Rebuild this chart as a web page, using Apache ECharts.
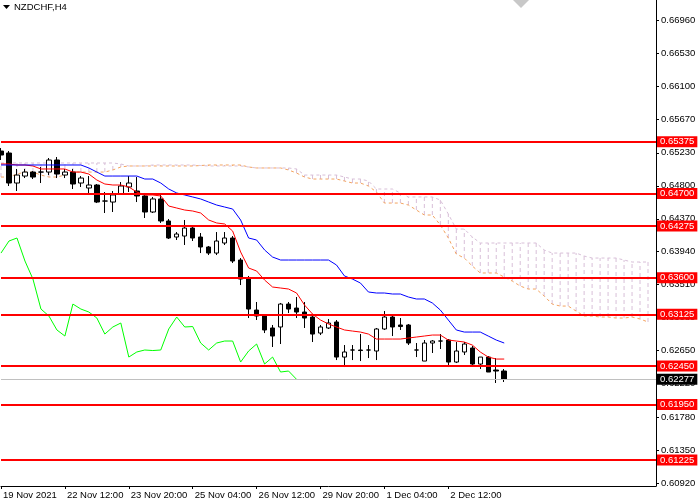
<!DOCTYPE html>
<html><head><meta charset="utf-8">
<script src="https://cdn.jsdelivr.net/npm/echarts@6.0.0/dist/echarts.min.js"></script>
<style>html,body{margin:0;padding:0;background:#fff}#c{width:700px;height:500px}</style>
</head><body><div id="c"></div>
<script>
const symbolName = 'NZDCHF,H4';
const tickLabels = ['19 Nov 2021','22 Nov 12:00','23 Nov 20:00','25 Nov 04:00','26 Nov 12:00','29 Nov 20:00','1 Dec 04:00','2 Dec 12:00'];
const yTicks = [0.66960,0.66530,0.66100,0.65670,0.65230,0.64800,0.64370,0.63940,0.63510,0.63080,0.62650,0.62220,0.61780,0.61350,0.60920];
const levels = [0.65375,0.64700,0.64275,0.63600,0.63125,0.62450,0.61950,0.61225];
const currentPrice = 0.62277;

const opens = [0.65253,0.65227,0.64836,0.64927,0.64979,0.64979,0.64979,0.65136,0.64940,0.64979,
0.64836,0.64771,0.64810,0.64601,0.64588,0.64693,0.64784,0.64732,0.64667,0.64458,
0.64628,0.64341,0.64132,0.64145,0.64249,0.64132,0.64002,0.63923,0.64054,0.64119,
0.63832,0.63597,0.63180,0.63102,0.62946,0.62959,0.63258,0.63206,0.63154,0.63089,
0.62880,0.62946,0.63024,0.62567,0.62659,0.62659,0.62659,0.62646,0.62933,0.63089,
0.62985,0.62985,0.62659,0.62515,0.62750,0.62776,0.62789,0.62502,0.62633,0.62685,
0.62476,0.62567,0.62398,0.62385];
const closes = [0.65201,0.64836,0.64940,0.64979,0.64914,0.64979,0.65136,0.64953,0.64979,0.64823,
0.64901,0.64810,0.64588,0.64601,0.64680,0.64797,0.64836,0.64667,0.64458,0.64628,
0.64341,0.64119,0.64171,0.64249,0.64119,0.64002,0.63923,0.64080,0.64119,0.63819,
0.63584,0.63193,0.63102,0.62920,0.62841,0.63258,0.63193,0.63154,0.63076,0.62867,
0.62959,0.63011,0.62567,0.62633,0.62659,0.62652,0.62659,0.62933,0.63089,0.62959,
0.62965,0.62750,0.62659,0.62750,0.62776,0.62776,0.62502,0.62646,0.62737,0.62476,
0.62567,0.62372,0.62385,0.62277];
const highs = [0.65292,0.65253,0.65019,0.65019,0.64992,0.65045,0.65162,0.65175,0.65019,0.65019,
0.64927,0.64927,0.64823,0.64719,0.64732,0.64849,0.64927,0.64914,0.64706,0.64654,
0.64706,0.64367,0.64197,0.64354,0.64262,0.64184,0.64015,0.64197,0.64197,0.64145,
0.63858,0.63624,0.63285,0.63115,0.62985,0.63272,0.63285,0.63350,0.63285,0.63102,
0.62985,0.63063,0.63050,0.62724,0.62724,0.62867,0.62724,0.62946,0.63167,0.63115,
0.63076,0.62998,0.62750,0.62789,0.62789,0.62867,0.62802,0.62763,0.62763,0.62711,
0.62567,0.62580,0.62554,0.62411];
const lows = [0.65136,0.64797,0.64732,0.64901,0.64888,0.64836,0.64940,0.64901,0.64901,0.64758,
0.64784,0.64706,0.64575,0.64445,0.64458,0.64680,0.64719,0.64588,0.64380,0.64445,
0.64315,0.64106,0.64093,0.64028,0.64080,0.63923,0.63897,0.63897,0.64028,0.63793,
0.63506,0.63076,0.63050,0.62880,0.62698,0.62737,0.63141,0.63076,0.62946,0.62763,
0.62854,0.62933,0.62528,0.62437,0.62528,0.62515,0.62554,0.62528,0.62920,0.62841,
0.62920,0.62724,0.62567,0.62515,0.62620,0.62672,0.62437,0.62489,0.62594,0.62463,
0.62411,0.62372,0.62229,0.62242];

const tenkan = [0.65084,0.65084,0.65071,0.65071,0.65058,0.65019,0.65019,0.65019,0.65019,0.64979,
0.64979,0.64953,0.64875,0.64823,0.64810,0.64810,0.64784,0.64719,0.64680,0.64680,
0.64667,0.64536,0.64510,0.64484,0.64471,0.64445,0.64354,0.64315,0.64302,0.64210,
0.63937,0.63728,0.63689,0.63571,0.63480,0.63467,0.63454,0.63402,0.63245,0.63128,
0.63050,0.62998,0.62959,0.62920,0.62906,0.62893,0.62867,0.62802,0.62802,0.62802,
0.62802,0.62815,0.62828,0.62841,0.62854,0.62854,0.62789,0.62776,0.62763,0.62724,
0.62633,0.62567,0.62541,0.62541];
const kijun = [0.65071,0.65071,0.65071,0.65071,0.65071,0.65071,0.65071,0.65071,0.65071,0.65071,
0.65071,0.65032,0.64979,0.64927,0.64927,0.64927,0.64927,0.64927,0.64888,0.64888,
0.64836,0.64758,0.64706,0.64680,0.64654,0.64628,0.64588,0.64549,0.64523,0.64497,
0.64354,0.64119,0.64093,0.63963,0.63871,0.63832,0.63832,0.63832,0.63832,0.63832,
0.63832,0.63832,0.63767,0.63624,0.63584,0.63532,0.63415,0.63402,0.63402,0.63389,
0.63389,0.63350,0.63324,0.63324,0.63272,0.63180,0.63050,0.62920,0.62893,0.62893,
0.62893,0.62841,0.62789,0.62750];
const senkouA = [0.64914,0.64914,0.64953,0.64979,0.64979,0.64940,0.64914,0.64914,0.64940,0.64979,
0.64979,0.64979,0.64979,0.64979,0.65006,0.65045,0.65058,0.65058,0.65058,0.65058,
0.65058,0.65058,0.65058,0.65058,0.65058,0.65064,0.65071,0.65071,0.65071,0.65071,
0.65071,0.65045,0.65032,0.65032,0.65032,0.65032,0.65006,0.64966,0.64914,0.64888,
0.64888,0.64888,0.64888,0.64862,0.64836,0.64836,0.64797,0.64719,0.64575,0.64575,
0.64575,0.64549,0.64484,0.64419,0.64419,0.64289,0.64119,0.63910,0.63858,0.63754,
0.63663,0.63663,0.63663,0.63610,0.63558,0.63493,0.63454,0.63454,0.63363,0.63258,
0.63232,0.63232,0.63167,0.63102,0.63102,0.63089,0.63089,0.63076,0.63076,0.63089,
0.63063,0.63024];
const senkouB = [0.65097,0.65097,0.65097,0.65097,0.65097,0.65097,0.65097,0.65097,0.65097,0.65097,
0.65097,0.65097,0.65097,0.65097,0.65097,0.65084,0.65058,0.65058,0.65058,0.65071,
0.65071,0.65071,0.65071,0.65071,0.65071,0.65064,0.65058,0.65058,0.65058,0.65058,
0.65058,0.65045,0.65032,0.65032,0.65032,0.65032,0.65032,0.65019,0.64940,0.64940,
0.64940,0.64940,0.64940,0.64914,0.64888,0.64888,0.64862,0.64758,0.64758,0.64758,
0.64706,0.64654,0.64654,0.64654,0.64654,0.64614,0.64432,0.64236,0.64236,0.64132,
0.64054,0.64054,0.64054,0.64054,0.64054,0.64054,0.64054,0.64054,0.63963,0.63923,
0.63923,0.63923,0.63923,0.63884,0.63858,0.63858,0.63858,0.63858,0.63832,0.63806,
0.63806,0.63806];
const chikou = [0.63923,0.64080,0.64119,0.63819,0.63584,0.63193,0.63102,0.62920,0.62841,0.63258,
0.63193,0.63154,0.63076,0.62867,0.62959,0.63011,0.62567,0.62633,0.62659,0.62652,
0.62659,0.62933,0.63089,0.62959,0.62965,0.62750,0.62659,0.62750,0.62776,0.62776,
0.62502,0.62646,0.62737,0.62476,0.62567,0.62372,0.62385,0.62277];

const SLOTS = 83;
const categories = Array.from({length: SLOTS}, (_, i) => String(i));
const candleData = opens.map((o, i) => [o, closes[i], lows[i], highs[i]]);
const cloudData = senkouA.map((a, i) => [i, a, senkouB[i]]);
const FONT = 'Liberation Sans';
const isTick = (i) => i % 8 === 0 && i / 8 < tickLabels.length;

const chart = echarts.init(document.getElementById('c'), null, {renderer: 'canvas'});
const levelLabel = (bg) => ({
  show: true, position: 'end', distance: 1,
  formatter: (p) => Number(p.value).toFixed(5),
  color: '#fff', backgroundColor: bg, fontFamily: FONT, fontSize: 9.5,
  padding: [1, 3, 0, 3], lineHeight: 10
});
chart.setOption({
  animation: false,
  backgroundColor: '#fff',
  grid: {left: 0, right: 44, top: 0, bottom: 14},
  xAxis: {
    type: 'category', data: categories, boundaryGap: false,
    axisLine: {show: true, lineStyle: {color: '#000', width: 1}},
    axisTick: {show: true, interval: isTick, length: 3, lineStyle: {color: '#000'}},
    axisLabel: {interval: isTick, formatter: (v, i) => tickLabels[i / 8] || '',
      align: 'left', padding: [0, 0, 0, 2], margin: 4, color: '#000', fontFamily: FONT, fontSize: 9.5},
    splitLine: {show: false}
  },
  yAxis: {
    type: 'value', position: 'right', min: 0.60886, max: 0.67222, scale: true,
    axisLine: {show: true, lineStyle: {color: '#000', width: 1}},
    axisTick: {show: true, customValues: yTicks, length: 3, lineStyle: {color: '#000'}},
    axisLabel: {customValues: yTicks, formatter: (v) => v.toFixed(5), margin: 5,
      color: '#000', fontFamily: FONT, fontSize: 9.5},
    splitLine: {show: false}
  },
  graphic: [
    {type: 'polygon', shape: {points: [[3, 5], [10, 5], [6.5, 9]]}, style: {fill: '#000'}, z: 100},
    {type: 'text', left: 14, top: 2, style: {text: symbolName, fill: '#000', font: '9.5px "Liberation Sans"'}, z: 100},
    {type: 'polygon', shape: {points: [[513, 0], [521, 8], [529, 0]]}, style: {fill: '#c8c8c8'}, z: 100}
  ],
  series: [
    {
      name: 'cloud', type: 'custom', data: cloudData, z: 1, silent: true,
      encode: {x: 0, y: [1, 2]},
      renderItem: (params, api) => {
        const x = api.value(0);
        const p1 = api.coord([x, api.value(1)]);
        const p2 = api.coord([x, api.value(2)]);
        const col = api.value(2) >= api.value(1) ? '#d8bfd8' : '#f4a460';
        return {type: 'line', shape: {x1: p1[0], y1: p1[1], x2: p2[0], y2: p2[1]},
          style: {stroke: col, lineWidth: 1, lineDash: [4, 3]}};
      }
    },
    {name: 'Senkou A', type: 'line', data: senkouA, symbol: 'none', z: 2,
      lineStyle: {color: '#f4a460', width: 1, type: [3, 3]}},
    {name: 'Senkou B', type: 'line', data: senkouB, symbol: 'none', z: 2,
      lineStyle: {color: '#d8bfd8', width: 1, type: [3, 3]}},
    {name: 'candles', type: 'candlestick', data: candleData, barWidth: 5, z: 3,
      itemStyle: {color: '#fff', color0: '#000', borderColor: '#000', borderColor0: '#000', borderWidth: 1}},
    {name: 'Chikou', type: 'line', data: chikou, symbol: 'none', z: 4,
      lineStyle: {color: '#00ff00', width: 1}},
    {name: 'Tenkan', type: 'line', data: tenkan, symbol: 'none', z: 4,
      lineStyle: {color: '#ff0000', width: 1}},
    {name: 'Kijun', type: 'line', data: kijun, symbol: 'none', z: 4,
      lineStyle: {color: '#0000ff', width: 1}},
    {
      name: 'levels', type: 'line', data: [], z: 10,
      markLine: {
        silent: true, symbol: ['none', 'none'], animation: false, precision: 5,
        data: [{yAxis: currentPrice, lineStyle: {color: '#c0c0c0', width: 1, type: 'solid'}, label: levelLabel('#000')}]
          .concat(levels.map((v) => ({yAxis: v, lineStyle: {color: '#ff0000', width: 2, type: 'solid'}, label: levelLabel('#ff0000')})))
      }
    }
  ]
});
</script>
</body></html>
